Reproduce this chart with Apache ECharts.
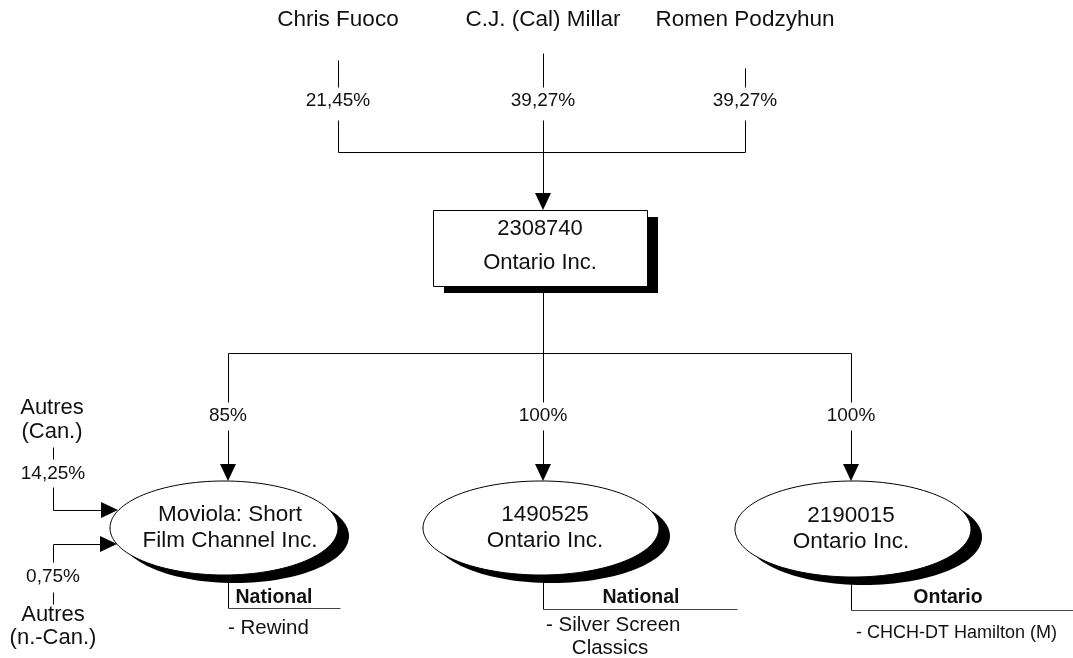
<!DOCTYPE html>
<html>
<head>
<meta charset="utf-8">
<script src="https://cdn.jsdelivr.net/npm/echarts@6/dist/echarts.min.js"></script>
<style>html,body{margin:0;padding:0;background:#fff}#c{width:1073px;height:658px}</style>
</head>
<body>
<div id="c"></div>
<script>
// ---- data ----
const owners = ['Chris Fuoco', 'C.J. (Cal) Millar', 'Romen Podzyhun'];
const ownerShares = ['21,45%', '39,27%', '39,27%'];
const holding = ['2308740', 'Ontario Inc.'];
const subsidiaries = [['Moviola: Short', 'Film Channel Inc.'], ['1490525', 'Ontario Inc.'], ['2190015', 'Ontario Inc.']];
const subsidiaryShares = ['85%', '100%', '100%'];
const markets = ['National', 'National', 'Ontario'];
const services = [['- Rewind'], ['- Silver Screen', 'Classics'], ['- CHCH-DT Hamilton (M)']];
const otherHolders = [['Autres', '(Can.)'], ['Autres', '(n.-Can.)']];
const otherShares = ['14,25%', '0,75%'];

// ---- layout (diagram units on hidden axes) ----
const W = 1073, H = 658;
const ownerX = [338, 543, 745];
const ownerLineTop = [60, 53, 68];
const ownerNameY = 20, ownerPctY = 101, ownerBarY = 152;
const box = { x1: 433, y1: 210, x2: 647, y2: 286, dx: 11, dy: 7 };
const branchY = 353, subPctY = 416;
const subX = [228, 543, 851];
const ell = [{cx: 224, cy: 528, rx: 114, ry: 47}, {cx: 541, cy: 528, rx: 118, ry: 47}, {cx: 853, cy: 529, rx: 118, ry: 48}];
const ellText = [230, 545, 851];
const stemBottom = [608, 609, 610];
const stemEnd = [340, 737, 1073];
const marketX = [274, 641, 948];
const serviceLayout = [[{x: 228, y: 628, a: 'left'}], [{x: 546, y: 625, a: 'left'}, {x: 610, y: 648, a: 'center'}], [{x: 856, y: 633, a: 'left'}]];
const serviceSize = [20.5, 20.5, 18];
const otherX = 53;
const arrowY = [510, 544], arrowTip = [118, 117];

const FONT = '"Liberation Sans", Arial, sans-serif';
const INK = '#111';

const chart = echarts.init(document.getElementById('c'));

function renderItem(params, api) {
  const P = (x, y) => api.coord([x, y]);
  const els = [];
  const line = (x1, y1, x2, y2, color) => {
    const a = P(x1, y1), b = P(x2, y2);
    els.push({type: 'line', shape: {x1: Math.round(a[0]) + 0.5, y1: Math.round(a[1]) + 0.5, x2: Math.round(b[0]) + 0.5, y2: Math.round(b[1]) + 0.5}, style: {stroke: color || '#000', lineWidth: 1}});
  };
  const text = (t, x, y, size, align, weight) => {
    const p = P(x, y);
    els.push({type: 'text', x: p[0], y: p[1], style: {text: t, fill: INK, fontSize: size, fontFamily: FONT, fontWeight: weight || 'normal', align: align || 'center', verticalAlign: 'middle'}});
  };
  const arrowDown = (x, tip) => {
    els.push({type: 'polygon', shape: {points: [P(x - 8, tip - 17), P(x + 8, tip - 17), P(x, tip)]}, style: {fill: '#000'}});
  };
  const arrowRight = (tip, y) => {
    els.push({type: 'polygon', shape: {points: [P(tip - 17, y - 8), P(tip - 17, y + 8), P(tip, y)]}, style: {fill: '#000'}});
  };

  // owners
  owners.forEach((n, i) => {
    text(n, ownerX[i], ownerNameY, 22.5);
    line(ownerX[i], ownerLineTop[i], ownerX[i], 87);
    text(ownerShares[i], ownerX[i], ownerPctY, 19);
    line(ownerX[i], 120, ownerX[i], i === 1 ? box.y1 - 17 : ownerBarY);
  });
  line(ownerX[0], ownerBarY, ownerX[2], ownerBarY);
  arrowDown(ownerX[1], box.y1);

  // holding box
  const s1 = P(box.x1 + box.dx, box.y1 + box.dy), s2 = P(box.x2 + box.dx, box.y2 + box.dy);
  els.push({type: 'rect', shape: {x: s1[0], y: s1[1], width: s2[0] - s1[0], height: s2[1] - s1[1]}, style: {fill: '#000'}});
  const b1 = P(box.x1, box.y1), b2 = P(box.x2, box.y2);
  els.push({type: 'rect', shape: {x: b1[0] + 0.5, y: b1[1] + 0.5, width: b2[0] - b1[0], height: b2[1] - b1[1]}, style: {fill: '#fff', stroke: '#000', lineWidth: 1}});
  text(holding[0], 540, 229, 22);
  text(holding[1], 540, 263, 22);

  // branch
  line(543, box.y2, 543, branchY);
  line(subX[0], branchY, subX[2], branchY);
  subsidiaries.forEach((s, i) => {
    const e = ell[i];
    const top = e.cy - e.ry;
    line(subX[i], branchY, subX[i], 402);
    text(subsidiaryShares[i], subX[i], subPctY, 19);
    line(subX[i], 430, subX[i], top - 17);
    arrowDown(subX[i], top);
    // ellipse shadow + body
    const c = P(e.cx, e.cy);
    els.push({type: 'ellipse', shape: {cx: c[0] + 11, cy: c[1] + 8, rx: e.rx, ry: e.ry}, style: {fill: '#000'}});
    els.push({type: 'ellipse', shape: {cx: c[0], cy: c[1], rx: e.rx, ry: e.ry}, style: {fill: '#fff', stroke: '#000', lineWidth: 1}});
    text(s[0], ellText[i], e.cy - 13, 22.5);
    text(s[1], ellText[i], e.cy + 13, 22.5);
    // market + services
    line(subX[i], e.cy + e.ry + 2, subX[i], stemBottom[i]);
    line(subX[i], stemBottom[i], stemEnd[i], stemBottom[i], '#444');
    text(markets[i], marketX[i], 598, 19.5, 'center', 'bold');
    services[i].forEach((t, j) => {
      const L = serviceLayout[i][j];
      text(t, L.x, L.y, serviceSize[i], L.a);
    });
  });

  // other holders of Moviola
  text(otherHolders[0][0], 52, 408, 22);
  text(otherHolders[0][1], 52, 432, 22);
  line(otherX, 447, otherX, 459);
  text(otherShares[0], otherX, 474, 19);
  line(otherX, 487, otherX, arrowY[0]);
  line(otherX, arrowY[0], arrowTip[0] - 17, arrowY[0]);
  arrowRight(arrowTip[0], arrowY[0]);

  line(otherX, arrowY[1], arrowTip[1] - 17, arrowY[1]);
  arrowRight(arrowTip[1], arrowY[1]);
  line(otherX, arrowY[1], otherX, 562);
  text(otherShares[1], otherX, 577, 19);
  line(otherX, 592, otherX, 604);
  text(otherHolders[1][0], 53, 615, 22);
  text(otherHolders[1][1], 53, 638, 22);

  return {type: 'group', children: els};
}

chart.setOption({
  animation: false,
  grid: {left: 0, right: 0, top: 0, bottom: 0},
  xAxis: {type: 'value', min: 0, max: W, show: false},
  yAxis: {type: 'value', min: 0, max: H, inverse: true, show: false},
  series: [{type: 'custom', coordinateSystem: 'cartesian2d', clip: false, renderItem: renderItem, data: [[0, 0]], silent: true}]
});
</script>
</body>
</html>
